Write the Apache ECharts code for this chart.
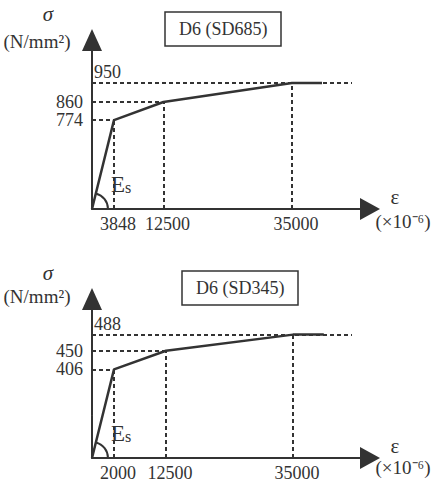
<!DOCTYPE html>
<html><head><meta charset="utf-8">
<script src="https://cdn.jsdelivr.net/npm/echarts@6/dist/echarts.min.js"></script>
<style>html,body{margin:0;padding:0;background:#fff}#c{width:433px;height:482px}</style>
</head><body><div id="c"></div>
<script>
// ---- Panel A : D6 (SD685) ----
const titleA = 'D6 (SD685)';
const strainA = [0, 3848, 12500, 35000, 40250];
const stressA = [0, 774, 860, 950, 950];
const keyStrainA = [3848, 12500, 35000];
const keyStressA = [774, 860, 950];
const plateauRefEndA = 45500;
// ---- Panel B : D6 (SD345) ----
const titleB = 'D6 (SD345)';
const strainB = [0, 2000, 12500, 35000, 37800];
const stressB = [0, 406, 450, 488, 488];
const keyStrainB = [2000, 12500, 35000];
const keyStressB = [406, 450, 488];
const plateauRefEndB = 40360;
// axis texts
const stressSymbol = 'σ';
const stressUnit = '(N/mm²)';
const strainSymbol = 'ε';
const strainUnit = '(×10⁻⁶)';
const modulusLabel = ['E', 's'];

const INK = '#333333';
const SERIF = 'Liberation Serif';

// schematic (non-proportional) axes of the original drawing, shown with hidden axis breaks
const axesCfg = [
  {xMax: 48650, xBreaks: [], yMax: 1155, yBreaks: [{start: 100, end: 452, gap: 1}]},
  {xMax: 42000, xBreaks: [{start: 3000, end: 8774, gap: 1}, {start: 15000, end: 25955, gap: 1}],
   yMax: 572, yBreaks: [{start: 100, end: 298, gap: 1}]}
];
const grids = [
  {left: 92, top: 40, width: 278, height: 169},
  {left: 92, top: 299, width: 278, height: 161}
];

function xAxisOf(i, ticks) {
  const c = axesCfg[i];
  return {
    type: 'value', gridIndex: i, min: 0, max: c.xMax, breaks: c.xBreaks,
    breakArea: {show: false},
    axisLine: {show: true, lineStyle: {color: INK, width: 2}, symbol: ['none', 'triangle'], symbolSize: [22, 20]},
    axisTick: {show: false}, splitLine: {show: false},
    axisLabel: {customValues: ticks, formatter: v => String(v), color: INK, fontFamily: SERIF, fontSize: 18,
      margin: 6, padding: [0, 0, 0, 8]}
  };
}
function yAxisOf(i, ticks) {
  const c = axesCfg[i];
  return {
    type: 'value', gridIndex: i, min: 0, max: c.yMax, breaks: c.yBreaks,
    breakArea: {show: false},
    axisLine: {show: true, lineStyle: {color: INK, width: 2}, symbol: ['none', 'triangle'], symbolSize: [20, 22]},
    axisTick: {show: false}, splitLine: {show: false},
    axisLabel: {customValues: ticks, formatter: v => String(v), color: INK, fontFamily: SERIF, fontSize: 18, margin: 9}
  };
}
function guideLines(xs, ys, ext) {
  const d = [];
  xs.forEach((x, k) => {
    const y = ys[k];
    const last = k === xs.length - 1;
    d.push([{coord: [x, 0]}, {coord: [x, y]}]);
    const start = {coord: [0, y]};
    if (last) start.label = {show: true, position: 'insideStartTop', formatter: String(y), distance: 2,
      color: INK, fontFamily: SERIF, fontSize: 18};
    d.push([start, {coord: [last ? ext : x, y]}]);
  });
  return d;
}
function seriesOf(i, xs, ys, kx, ky, ext) {
  return {
    type: 'line', xAxisIndex: i, yAxisIndex: i, data: xs.map((x, k) => [x, ys[k]]),
    symbol: 'none', clip: false, lineStyle: {color: INK, width: 2.5}, silent: true,
    markLine: {silent: true, symbol: 'none', label: {show: false},
      lineStyle: {color: INK, width: 2, type: [4, 3]}, data: guideLines(kx, ky, ext)}
  };
}
function titleOf(text, left, top) {
  return {text, left, top, borderWidth: 1.5, borderColor: INK, padding: [8, 14],
    textStyle: {fontFamily: SERIF, fontSize: 18, fontWeight: 'normal', color: INK}};
}

const chart = echarts.init(document.getElementById('c'), null, {renderer: 'svg'});
chart.setOption({
  animation: false,
  backgroundColor: '#fff',
  title: [titleOf(titleA, 165, 12), titleOf(titleB, 182, 271)],
  grid: grids,
  xAxis: [xAxisOf(0, keyStrainA), xAxisOf(1, keyStrainB)],
  yAxis: [yAxisOf(0, keyStressA.slice(0, 2)), yAxisOf(1, keyStressB.slice(0, 2))],
  series: [
    seriesOf(0, strainA, stressA, keyStrainA, keyStressA, plateauRefEndA),
    seriesOf(1, strainB, stressB, keyStrainB, keyStressB, plateauRefEndB)
  ]
});

const g = [];
const txt = (x, y, text, size, extra) => g.push({type: 'text', x, y, style: Object.assign({
  text, fill: INK, fontSize: size, fontFamily: SERIF, align: 'center', verticalAlign: 'middle'}, extra || {})});
[[0, strainA, stressA], [1, strainB, stressB]].forEach(([i, xs, ys]) => {
  const o = chart.convertToPixel({gridIndex: i}, [0, 0]);
  const p = chart.convertToPixel({gridIndex: i}, [xs[1], ys[1]]);
  const th = Math.atan2(o[1] - p[1], p[0] - o[0]);
  g.push({type: 'arc', shape: {cx: o[0], cy: o[1], r: 16, startAngle: -th, endAngle: 0, clockwise: true},
    style: {stroke: INK, lineWidth: 2, fill: null}});
  txt(o[0] + 19, o[1] - 13, modulusLabel[0], 23, {align: 'left', verticalAlign: 'bottom'});
  txt(o[0] + 33, o[1] - 14, modulusLabel[1], 16, {align: 'left', verticalAlign: 'bottom'});
  const yTop = grids[i].top, yBot = grids[i].top + grids[i].height;
  txt(48, yTop - 26, stressSymbol, 21, {fontStyle: 'italic'});
  txt(37, yTop + 1 - (i ? 4 : 0), stressUnit, 19);
  txt(395, yBot - 12 - (i ? 2 : 0), strainSymbol, 21);
  txt(403, yBot + 12 - (i ? 5 : 0), strainUnit, 19);
});
chart.setOption({graphic: g});
</script></body></html>
